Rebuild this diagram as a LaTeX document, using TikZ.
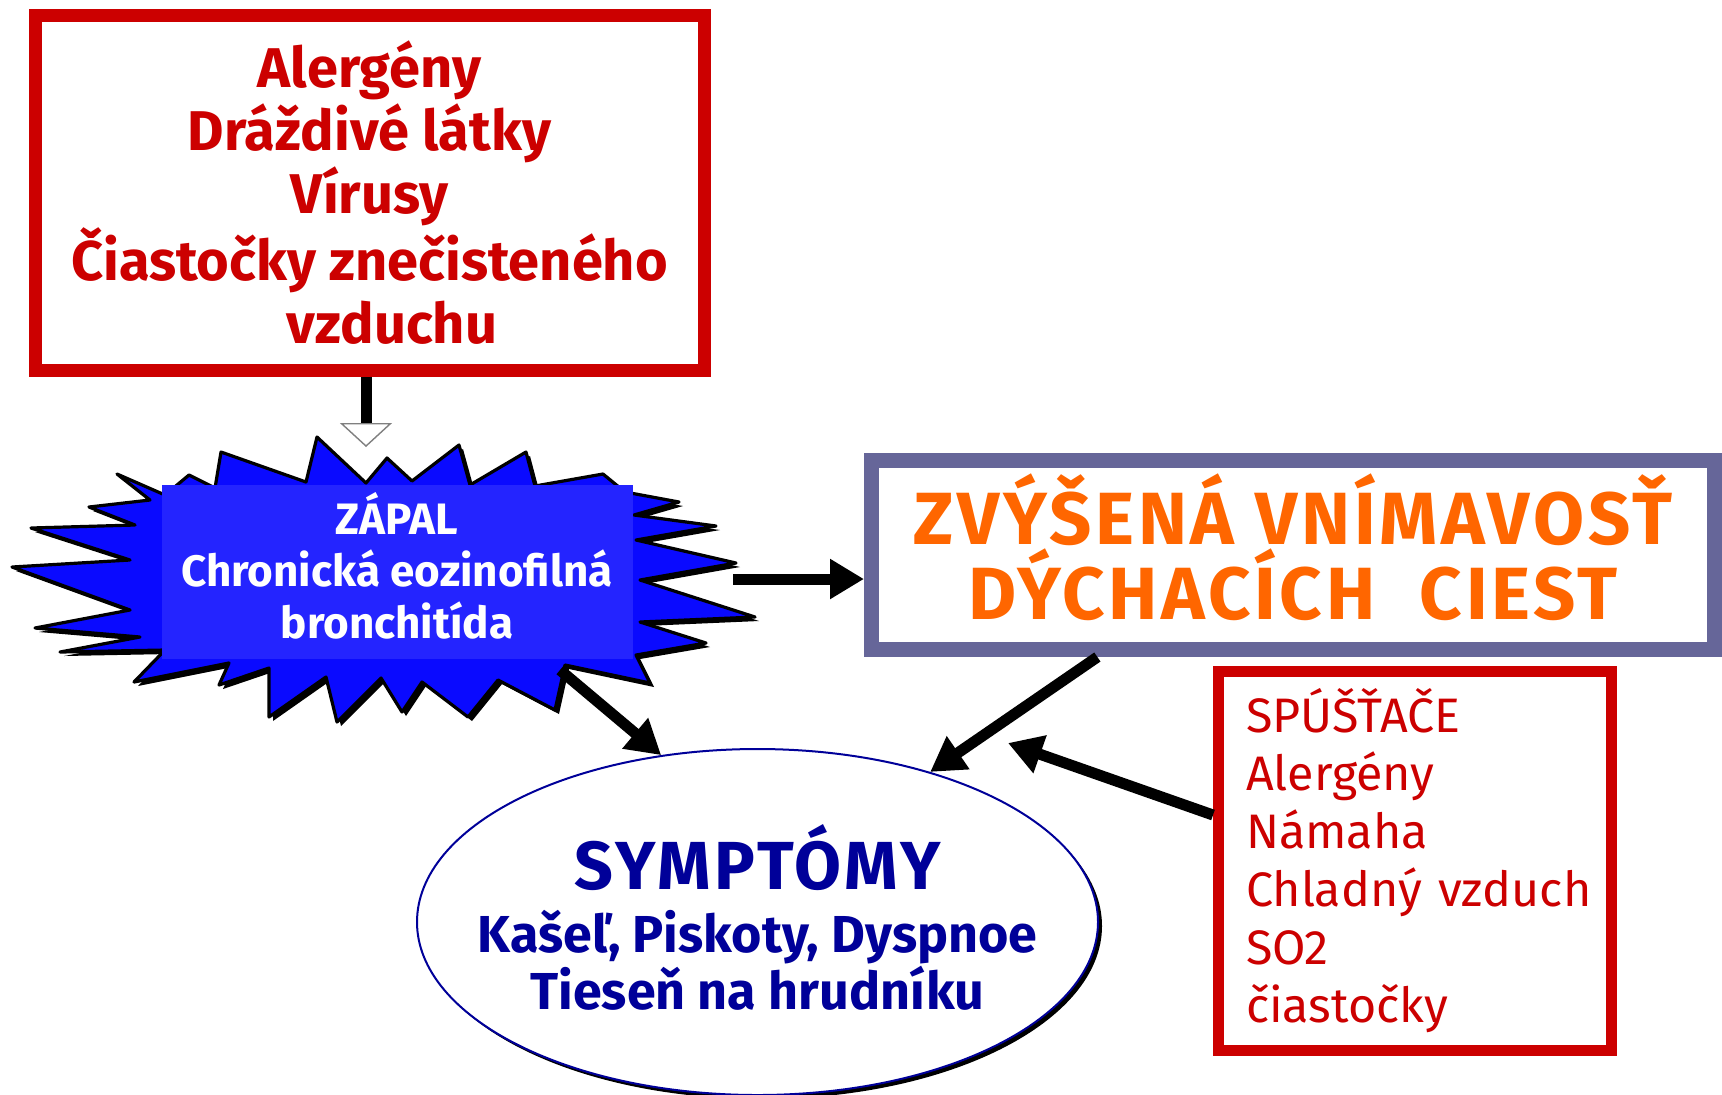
\documentclass[tikz,border=0pt]{standalone}
\usepackage{fontspec}
\setmainfont{Fira Sans}
\newfontfamily\widefont[LetterSpace=5]{Fira Sans}
\usetikzlibrary{arrows.meta,shapes.geometric,calc,shadows}
\definecolor{cred}{HTML}{CC0000}
\definecolor{cgray}{HTML}{666699}
\definecolor{corange}{HTML}{FF6600}
\definecolor{cnavy}{HTML}{000099}
\definecolor{cblue}{HTML}{0A0AFF}
\definecolor{cblue2}{HTML}{2424FF}
\begin{document}
\begin{tikzpicture}[x=0.5pt,y=-0.5pt,
  redbox/.style={draw=cred,line width=6.5pt,fill=white,inner sep=0pt},
  arr/.style={line width=5.5pt,-{Triangle[length=17pt,width=19pt]}},
  hollowarr/.style={line width=5.5pt,-{Triangle[length=12pt,width=26pt,fill=white,color=gray,line width=0.7pt]}},
  burst/.style={fill=cblue,draw=black,line width=1.6pt,line join=round}
]
\useasboundingbox[fill=white] (0,0) rectangle (1722,1094);

% starburst shadow
\begin{scope}[shift={(4,4)}]
\fill[black] (117,474) -- (165,495) -- (189,475) -- (215,488) -- (221,452) -- (306,482) -- (317,437) -- (366,483) -- (387,458) -- (412,481) -- (459,445) -- (470,485) -- (526,452) -- (535,486) -- (603,474) -- (625,492) -- (679,502) -- (634,515) -- (716,526) -- (636,540) -- (736,563) -- (640,580) -- (755,617) -- (640,622) -- (706,643) -- (636,655) -- (650,683) -- (565,665) -- (555,710) -- (498,680) -- (468,717) -- (422,682) -- (402,712) -- (381,678) -- (337,722) -- (326,677) -- (269,717) -- (269,668) -- (219,685) -- (229,663) -- (134,682) -- (165,650) -- (60,652) -- (140,637) -- (35,628) -- (130,610) -- (12,567) -- (130,560) -- (31,528) -- (135,525) -- (89,507) -- (150,500) -- cycle;
\end{scope}
% starburst
\path[burst] (117,474) -- (165,495) -- (189,475) -- (215,488) -- (221,452) -- (306,482) -- (317,437) -- (366,483) -- (387,458) -- (412,481) -- (459,445) -- (470,485) -- (526,452) -- (535,486) -- (603,474) -- (625,492) -- (679,502) -- (634,515) -- (716,526) -- (636,540) -- (736,563) -- (640,580) -- (755,617) -- (640,622) -- (706,643) -- (636,655) -- (650,683) -- (565,665) -- (555,710) -- (498,680) -- (468,717) -- (422,682) -- (402,712) -- (381,678) -- (337,722) -- (326,677) -- (269,717) -- (269,668) -- (219,685) -- (229,663) -- (134,682) -- (165,650) -- (60,652) -- (140,637) -- (35,628) -- (130,610) -- (12,567) -- (130,560) -- (31,528) -- (135,525) -- (89,507) -- (150,500) -- cycle;

\node[fill=cblue2, minimum width=235.5pt, minimum height=87pt, inner sep=0pt, text=white,
  font=\bfseries\fontsize{22}{26}\selectfont, align=center] (zap) at (397,572)
  {ZÁPAL\\Chronická eozinofilná\\bronchitída\rule[-7pt]{0pt}{7pt}};

\node[redbox, minimum width=334.5pt, minimum height=177.25pt, text=cred,
  font=\bfseries\fontsize{28}{31.4}\selectfont, align=center] (causes) at (369.5,192.75)
  {Alergény\\Dráždivé látky\\Vírusy\\Čiastočky znečisteného\\\hspace*{0.8em}vzduchu};

\node[draw=cgray, line width=7.5pt, fill=white, minimum width=421.5pt, minimum height=94.5pt,
  inner sep=0pt, text=corange, font=\widefont\bfseries\fontsize{37}{37.5}\selectfont, align=center] (hyper) at (1293,555)
  {ZVÝŠENÁ VNÍMAVOSŤ\\DÝCHACÍCH\hspace{0.6em}CIEST\rule[-8pt]{0pt}{8pt}};

\node[ellipse, draw=cnavy, line width=1pt, fill=white, minimum width=340.5pt, minimum height=173pt,
  inner sep=0pt,
  drop shadow={shadow xshift=2pt,shadow yshift=-2pt,opacity=1,fill=black}] (symp) at (757.5,922) {};
\node[text=cnavy, align=center, font=\bfseries\fontsize{26}{28.5}\selectfont, inner sep=0pt] (symptxt) at ([yshift=2.5pt]symp.center)
  {{\widefont\bfseries\fontsize{34}{34}\selectfont SYMPTÓMY}\\[3pt]Kašeľ, Piskoty, Dyspnoe\\Tieseň na hrudníku};

\node[redbox, line width=5.5pt, minimum width=196.5pt, minimum height=189.5pt, text width=169pt,
  align=left, text=cred, font=\fontsize{24.2}{29}\selectfont] (trig) at (1415,861)
  {SPÚŠŤAČE\\Alergény\\Námaha\\\mbox{Chladný vzduch}\\SO2\\čiastočky};

% connectors
\coordinate (a1) at (366,447);
\draw[hollowarr] (causes.south -| a1) -- (a1);
\coordinate (b2) at (733,579);
\draw[arr] (b2) -- (b2 -| hyper.west);
\coordinate (b3) at (560,670);
\draw[arr] (b3) -- (symp.120);
\draw[arr] ($(hyper.south west)!0.272!(hyper.south east)$) -- (symp.41);
\coordinate (t5) at (1008,743);
\draw[arr] ([yshift=23pt]trig.west) -- (t5);
\end{tikzpicture}
\end{document}
